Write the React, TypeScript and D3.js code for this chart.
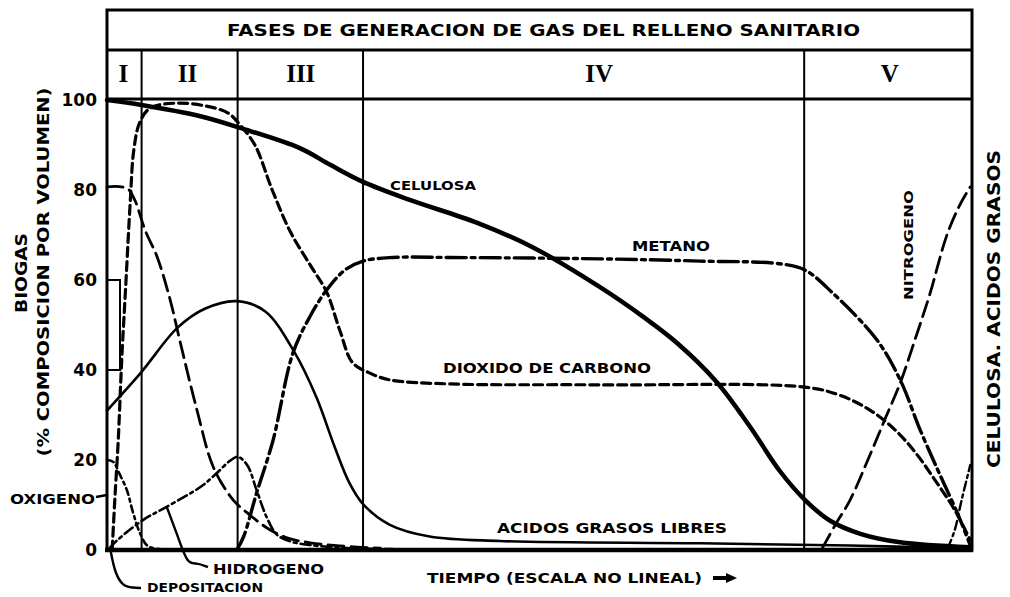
import React, { useEffect, useRef } from "react";
import * as d3 from "d3";

type Pt = [number, number];

// time axis is "non linear": 0..100 arbitrary units, composition in %
const phaseBounds = [4.0, 15.1, 29.6, 80.6];
const phaseNames = ["I", "II", "III", "IV", "V"];
const phaseLabelAt = [1.9, 9.3, 22.4, 56.9, 90.5];
const yTicks = [100, 80, 60, 40, 20, 0];

const celulosa: Pt[] = [[0, 100], [4, 98.9], [10.8, 96.4], [15.4, 93.8], [22.3, 89.3], [25.8, 85.6], [29.6, 81.8], [35, 77.8], [42.8, 72.7], [49.2, 67.3], [57, 58.4], [62, 51.8], [65.9, 46], [70.5, 37.3], [74.3, 27.5], [77.8, 17.5], [80.7, 11.1], [83.6, 6.5], [87.1, 3.6], [91.7, 1.7], [99.8, 0.6]];
const acidos: Pt[] = [[0, 31], [4, 39.6], [8.1, 49.3], [11.3, 53.6], [15, 55.3], [18.3, 53], [21.6, 44.2], [24.2, 34], [26.3, 23], [28, 15], [29.6, 10.2], [32.7, 5.6], [37.3, 3], [45.4, 2], [68.6, 1.5], [85.9, 1], [99.5, 0.3]];
const metano: Pt[] = [[15, 0], [15.8, 3], [17.3, 12.7], [19.2, 24.4], [21.5, 43.8], [23.5, 52], [25.4, 57.8], [27.5, 62.2], [29.6, 64.2], [33, 65], [39.7, 65], [57, 64.7], [68.6, 64.2], [77.8, 63.6], [80.7, 62.2], [83.9, 57.1], [89, 46.7], [91.7, 37.8], [94, 26.7], [96.3, 16.7], [98.4, 7.8], [99.8, 1]];
const dioxido: Pt[] = [[0.6, 0], [0.9, 11.1], [1.3, 24.4], [1.7, 42.2], [2.2, 60], [2.7, 77.8], [3.1, 88.9], [3.8, 95.1], [5, 98.2], [7.9, 99.3], [11.3, 98.7], [14, 97.1], [15.4, 94.4], [17.1, 90], [19.1, 80], [21.2, 70.7], [23.5, 63.3], [25.4, 57.3], [26.9, 48.9], [28.4, 41.6], [30.4, 39.3], [32.7, 37.8], [39.7, 36.9], [57, 36.7], [80.7, 36.2], [84.7, 34.4], [88.2, 31.1], [91.1, 26.7], [93.4, 21.8], [95.7, 15.6], [98, 8.9], [99.8, 2.2]];
const nitrogeno: Pt[] = [[0, 80.7], [2.3, 80.4], [3.2, 77.8], [4.4, 71.1], [5.8, 65.1], [7.3, 55.6], [8.4, 46.7], [10.4, 31.1], [12.3, 18.4], [14.6, 11.1], [16.5, 7.8], [18.5, 4.9], [20.8, 2.7], [23.5, 1.6], [26.9, 0.9], [31.6, 0.4]];
const nitrogenoFinal: Pt[] = [[82.7, 0.4], [84.2, 5.6], [85.9, 11.1], [88.2, 21.1], [89.9, 28.9], [91.7, 37.1], [93.4, 46.7], [95.1, 56.7], [97.1, 70], [98.6, 76.7], [99.8, 80.7]];
const hidrogeno: Pt[] = [[0.3, 0.4], [1.2, 2.2], [4.2, 6.7], [6.9, 9.6], [10.8, 14], [12.7, 17.1], [14.2, 19.8], [15.1, 20.7], [16.2, 18.9], [17.3, 13.3], [18.5, 7.1], [19.7, 3.3], [21.4, 1.8], [23.5, 1.1], [28.1, 0.4], [33, 0.2]];
const oxigeno: Pt[] = [[0, 20], [0.7, 19.6], [1.5, 16.7], [2.3, 13.3], [3, 8.4], [3.8, 3.8], [4.7, 0.9], [6.1, 0.2]];
const oxigenoFinal: Pt[] = [[97.2, 0.4], [98, 4.4], [98.8, 11.1], [99.8, 18.9]];

const FONT = "'DejaVu Sans', sans-serif";

export default function App() {
  const ref = useRef<SVGSVGElement>(null);

  useEffect(() => {
    document.body.style.margin = "0";
    const svg = d3.select(ref.current);
    svg.selectAll("*").remove();

    const left = 107, right = 972, top = 10, bottom = 550;
    const x = d3.scaleLinear().domain([0, 100]).range([left, right]);
    const y = d3.scaleLinear().domain([0, 100]).range([bottom, 100]);

    svg.append("rect").attr("width", 1010).attr("height", 597).attr("fill", "#fff");

    const line = d3.line<Pt>()
      .x(d => x(d[0]))
      .y(d => y(d[1]))
      .curve(d3.curveCatmullRom.alpha(0.5));

    // frame
    const frame = svg.append("g").attr("stroke", "#000").attr("fill", "none");
    frame.append("rect").attr("x", left).attr("y", top).attr("width", right - left).attr("height", bottom - top).attr("stroke-width", 3);
    frame.append("line").attr("x1", left).attr("x2", right).attr("y1", 50).attr("y2", 50).attr("stroke-width", 3);
    frame.append("line").attr("x1", left).attr("x2", right).attr("y1", y(100) - 1).attr("y2", y(100) - 1).attr("stroke-width", 3);
    frame.selectAll(".phase").data(phaseBounds).join("line")
      .attr("x1", d => x(d)).attr("x2", d => x(d))
      .attr("y1", 50).attr("y2", bottom)
      .attr("stroke-width", 2);
    frame.append("line").attr("x1", left - 2).attr("x2", right + 1).attr("y1", bottom).attr("y2", bottom).attr("stroke-width", 4.5);

    // small bracket ticks on the left axis
    frame.append("path")
      .attr("d", `M${left},${y(60)}H${left + 13}V${y(40)}H${left}`)
      .attr("stroke-width", 2);

    // title and phase names
    svg.append("text")
      .attr("x", 227).attr("y", 36)
      .attr("textLength", 633).attr("lengthAdjust", "spacingAndGlyphs")
      .attr("font-family", FONT).attr("font-weight", 700).attr("font-size", 15)
      .text("FASES DE GENERACION DE GAS DEL RELLENO SANITARIO");

    svg.selectAll(".pn").data(phaseNames).join("text")
      .attr("x", (d, i) => x(phaseLabelAt[i])).attr("y", 82)
      .attr("text-anchor", "middle")
      .attr("font-family", "'Liberation Serif', serif").attr("font-weight", 700).attr("font-size", 25)
      .text(d => d);

    // y axis labels
    svg.selectAll(".yt").data(yTicks).join("text")
      .attr("x", 97).attr("y", d => y(d) + 6)
      .attr("text-anchor", "end")
      .attr("font-family", FONT).attr("font-weight", 700).attr("font-size", 17)
      .text(d => d);

    const vtext = (cx: number, cy: number, len: number, size: number, s: string) =>
      svg.append("text")
        .attr("transform", `translate(${cx},${cy}) rotate(-90)`)
        .attr("x", -len / 2).attr("y", 0)
        .attr("textLength", len).attr("lengthAdjust", "spacingAndGlyphs")
        .attr("font-family", FONT).attr("font-weight", 700).attr("font-size", size)
        .text(s);

    vtext(27, 273, 80, 15, "BIOGAS");
    vtext(49, 272, 369, 15, "(% COMPOSICION POR VOLUMEN)");
    vtext(1000, 309, 318, 17, "CELULOSA. ACIDOS GRASOS");
    vtext(913, 245, 110, 12, "NITROGENO");

    // curves
    const series = [
      { data: celulosa, w: 4.5, dash: null },
      { data: acidos, w: 2.6, dash: null },
      { data: metano, w: 3.4, dash: "20 5 4 5" },
      { data: dioxido, w: 3.2, dash: "9 5" },
      { data: nitrogeno, w: 2.8, dash: "16 7" },
      { data: nitrogenoFinal, w: 2.8, dash: "16 7" },
      { data: hidrogeno, w: 2.6, dash: "10 4 3 4" },
      { data: oxigeno, w: 2.6, dash: "7 4 3 4" },
      { data: oxigenoFinal, w: 2.4, dash: "9 4 3 4" },
    ];
    svg.append("g").selectAll("path").data(series).join("path")
      .attr("d", d => line(d.data))
      .attr("fill", "none")
      .attr("stroke", "#000")
      .attr("stroke-width", d => d.w)
      .attr("stroke-linecap", "round")
      .attr("stroke-dasharray", d => d.dash);

    // curve labels
    const label = (lx: number, ly: number, len: number, size: number, s: string) =>
      svg.append("text")
        .attr("x", lx).attr("y", ly)
        .attr("textLength", len).attr("lengthAdjust", "spacingAndGlyphs")
        .attr("font-family", FONT).attr("font-weight", 700).attr("font-size", size)
        .text(s);

    label(390, 190, 86, 13, "CELULOSA");
    label(632, 251, 78, 14, "METANO");
    label(443, 373, 208, 14, "DIOXIDO DE CARBONO");
    label(497, 533, 230, 14, "ACIDOS GRASOS LIBRES");
    label(10, 504, 85, 14, "OXIGENO");
    label(213, 574, 111, 14, "HIDROGENO");
    label(147, 592, 116, 12, "DEPOSITACION");
    label(427, 583, 275, 14, "TIEMPO (ESCALA NO LINEAL)");

    // leaders
    const lead = svg.append("g").attr("stroke", "#000").attr("fill", "none").attr("stroke-width", 2.4);
    lead.append("line").attr("x1", 96).attr("x2", left).attr("y1", 497).attr("y2", 495);
    lead.append("path")
      .attr("d", d3.line().curve(d3.curveBasis)([[x(6.9), y(9.6)], [x(8.2), y(3)], [x(9.3), y(-3.2)], [x(10.3), y(-2.8)], [208, 567]]));
    lead.append("path")
      .attr("d", d3.line().curve(d3.curveBasis)([[x(0.4), bottom], [x(0.9), y(-5)], [x(1.8), y(-8)], [x(3), y(-8.4)], [141, 588]]));

    // arrow
    lead.append("line").attr("x1", 713).attr("x2", 728).attr("y1", 578).attr("y2", 578).attr("stroke-width", 4);
    svg.append("path").attr("d", "M726,573L737,578L726,583Z").attr("fill", "#000");
  }, []);

  return <svg ref={ref} width={1010} height={597} style={{ display: "block" }} />;
}
